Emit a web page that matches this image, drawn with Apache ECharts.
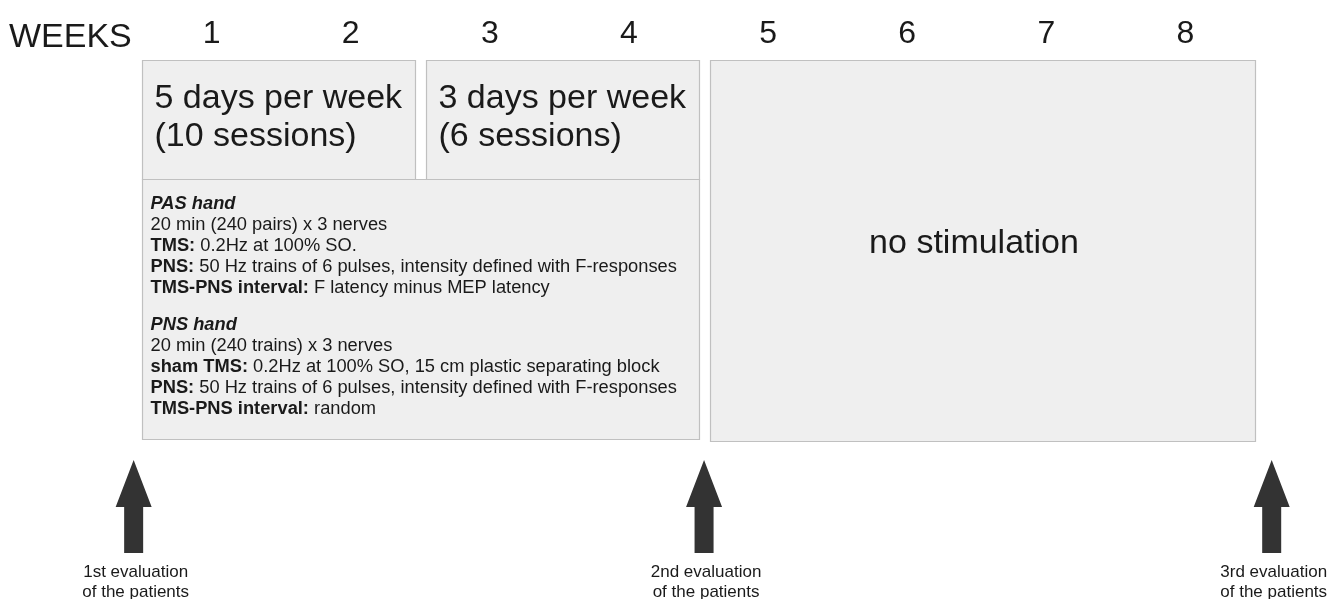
<!DOCTYPE html>
<html>
<head>
<meta charset="utf-8">
<script src="https://cdn.jsdelivr.net/npm/echarts@6/dist/echarts.min.js"></script>
<style>
  html, body { margin: 0; padding: 0; background: #fff; }
  #timeline { width: 1329px; height: 599px; }
</style>
</head>
<body>
<div id="timeline"></div>
<script>
// study timeline, x in weeks
const weeks = ['1', '2', '3', '4', '5', '6', '7', '8'];

const phaseLabels = ['5 days per week\n(10 sessions)', '3 days per week\n(6 sessions)', 'no stimulation'];
const phaseStart = [0, 2.04, 4.08];
const phaseEnd = [1.96, 4, 8];

const protocolStart = 0;
const protocolEnd = 4;
const protocolLines = [
  '{bi|PAS hand}',
  '20 min (240 pairs) x 3 nerves',
  '{b|TMS:} 0.2Hz at 100% SO.',
  '{b|PNS:} 50 Hz trains of 6 pulses, intensity defined with F-responses',
  '{b|TMS-PNS interval:} F latency minus MEP latency',
  '{gap|}',
  '{bi|PNS hand}',
  '20 min (240 trains) x 3 nerves',
  '{b|sham TMS:} 0.2Hz at 100% SO, 15 cm plastic separating block',
  '{b|PNS:} 50 Hz trains of 6 pulses, intensity defined with F-responses',
  '{b|TMS-PNS interval:} random'
];

const evalWeeks = [-0.06, 4.04, 8.12];
const evalLabels = ['1st evaluation\nof the patients', '2nd evaluation\nof the patients', '3rd evaluation\nof the patients'];

const FONT = '"Liberation Sans", Arial, Helvetica, sans-serif';
const INK = '#1a1a1a';
const BOX_FILL = '#efefef';
const BOX_LINE = '#c0c0c0';
const SMALL = 18.3;
const LINE = 21;

// vertical layout, px below the grid top
const ROW_HEAD = [0, 119];
const ROW_PROTO = [119, 379];
const ROW_FULL = [0, 381];

function boxRect(api, x0, x1, row) {
  const a = api.coord([x0, row[0]]);
  const b = api.coord([x1, row[1]]);
  return { x: Math.round(a[0]) + 0.5, y: Math.round(a[1]) + 0.5, width: Math.round(b[0] - a[0]), height: Math.round(b[1] - a[1]) };
}

function renderPhase(params, api) {
  const i = params.dataIndex;
  const full = i === 2;
  const r = boxRect(api, api.value(0), api.value(1), full ? ROW_FULL : ROW_HEAD);
  const label = full
    ? { type: 'text', style: { x: r.x + r.width / 2 - 9, y: r.y + 183, text: phaseLabels[i], fill: INK, font: '34px ' + FONT, align: 'center', verticalAlign: 'middle' } }
    : { type: 'text', style: { x: r.x + 12, y: r.y + 19, text: phaseLabels[i], fill: INK, font: '34px ' + FONT, lineHeight: 38, align: 'left', verticalAlign: 'top' } };
  return {
    type: 'group',
    children: [
      { type: 'rect', shape: r, style: { fill: BOX_FILL, stroke: BOX_LINE, lineWidth: 1.2 } },
      label
    ]
  };
}

function renderProtocol(params, api) {
  const r = boxRect(api, api.value(0), api.value(1), ROW_PROTO);
  return {
    type: 'group',
    children: [
      { type: 'rect', shape: r, style: { fill: BOX_FILL, stroke: BOX_LINE, lineWidth: 1.2 } },
      {
        type: 'text',
        style: {
          x: r.x + 8, y: r.y + 24 - LINE / 2,
          text: protocolLines.join('\n'),
          fill: INK, fontFamily: FONT, fontSize: SMALL, lineHeight: LINE,
          align: 'left', verticalAlign: 'top',
          rich: {
            b: { fontWeight: 'bold', fontFamily: FONT, fontSize: SMALL, lineHeight: LINE, fill: INK },
            bi: { fontWeight: 'bold', fontStyle: 'italic', fontFamily: FONT, fontSize: SMALL, lineHeight: LINE, fill: INK },
            gap: { lineHeight: 16 }
          }
        }
      }
    ]
  };
}

function renderEval(params, api) {
  const w = api.value(0);
  const tip = api.coord([w, 400]);
  const neck = api.coord([w, 447]);
  const foot = api.coord([w, 493]);
  const cx = tip[0];
  return {
    type: 'group',
    children: [
      {
        type: 'polygon',
        shape: { points: [[cx, tip[1]], [cx + 18, neck[1]], [cx + 9.5, neck[1]], [cx + 9.5, foot[1]], [cx - 9.5, foot[1]], [cx - 9.5, neck[1]], [cx - 18, neck[1]]] },
        style: { fill: '#333333' }
      },
      {
        type: 'text',
        style: { x: cx + 2, y: foot[1] + 9, text: evalLabels[params.dataIndex], fill: INK, font: '17px ' + FONT, lineHeight: 20, align: 'center', verticalAlign: 'top' }
      }
    ]
  };
}

const chart = echarts.init(document.getElementById('timeline'), null, { renderer: 'canvas' });
chart.setOption({
  animation: false,
  backgroundColor: '#ffffff',
  title: {
    text: 'WEEKS', left: 4, top: 16,
    textStyle: { fontFamily: FONT, fontSize: 34, fontWeight: 'normal', color: INK }
  },
  grid: { left: 142, right: 74, top: 60, bottom: 0 },
  xAxis: [
    {
      type: 'category', position: 'top', data: weeks, boundaryGap: true,
      axisLine: { show: false }, axisTick: { show: false }, splitLine: { show: false },
      axisLabel: { fontFamily: FONT, fontSize: 32, color: INK, margin: 10 }
    },
    { type: 'value', min: 0, max: 8, show: false }
  ],
  yAxis: { type: 'value', min: 0, max: 539, inverse: true, show: false },
  series: [
    {
      type: 'custom', xAxisIndex: 1, silent: true, clip: false,
      data: phaseStart.map((s, i) => [s, phaseEnd[i]]),
      renderItem: renderPhase
    },
    {
      type: 'custom', xAxisIndex: 1, silent: true, clip: false,
      data: [[protocolStart, protocolEnd]],
      renderItem: renderProtocol
    },
    {
      type: 'custom', xAxisIndex: 1, silent: true, clip: false,
      data: evalWeeks.map(w => [w]),
      renderItem: renderEval
    }
  ]
});
window.onresize = () => { chart.resize(); };
</script>
</body>
</html>
